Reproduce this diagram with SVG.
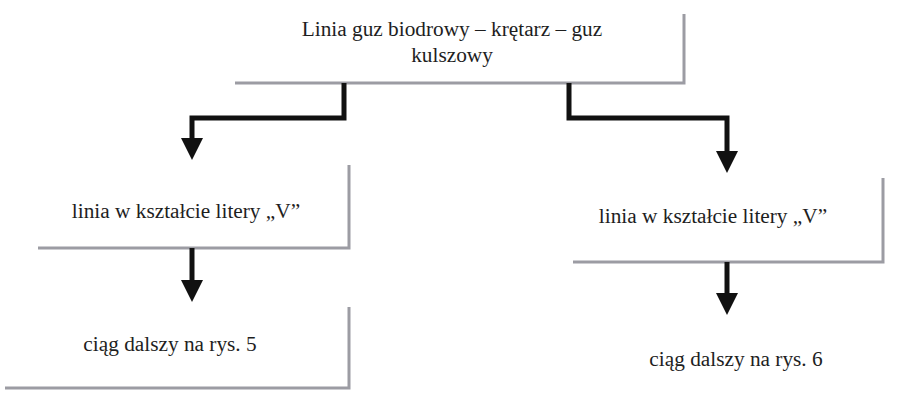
<svg xmlns="http://www.w3.org/2000/svg" width="906" height="404" viewBox="0 0 906 404">
  <style>
    .box { fill: #ffffff; }
    .edge { fill: none; stroke: #9c9ca3; stroke-width: 3; filter: url(#soft); }
    .label { font-family: 'Liberation Serif', 'Times New Roman', serif; font-size: 21.3px; fill: #1e1e1e; }
    .conn { fill: none; stroke: #111111; stroke-width: 5; stroke-linejoin: miter; }
  </style>
  <defs>
    <filter id="soft" x="-5%" y="-5%" width="110%" height="110%">
      <feGaussianBlur stdDeviation="0.7"/>
    </filter>
    <marker id="head" markerUnits="userSpaceOnUse" markerWidth="22" markerHeight="22" viewBox="0 -11 22 22" refX="0" refY="0" orient="auto">
      <path d="M0,-11 L22,0 L0,11 z" fill="#111111"/>
    </marker>
  </defs>
  <rect width="906" height="404" fill="#ffffff"/>

  <g id="node-top">
    <rect class="box" x="221" y="13" width="462" height="70"/>
    <path class="edge" d="M235,83 H684 V14"/>
    <text class="label" x="452" y="36" text-anchor="middle">Linia guz biodrowy – krętarz – guz</text>
    <text class="label" x="452" y="62" text-anchor="middle">kulszowy</text>
  </g>

  <g id="node-left-v">
    <rect class="box" x="38" y="165" width="311" height="83"/>
    <path class="edge" d="M38,248 H349 V165"/>
    <text class="label" x="186" y="218" text-anchor="middle">linia w kształcie litery „V”</text>
  </g>

  <g id="node-right-v">
    <rect class="box" x="573" y="178" width="310" height="84"/>
    <path class="edge" d="M573,262 H883 V178"/>
    <text class="label" x="713" y="223" text-anchor="middle">linia w kształcie litery „V”</text>
  </g>

  <g id="node-left-next">
    <rect class="box" x="5" y="307" width="344" height="81"/>
    <path class="edge" d="M5,388 H349 V307"/>
    <text class="label" x="170" y="351" text-anchor="middle">ciąg dalszy na rys. 5</text>
  </g>

  <g id="node-right-next">
    <rect class="box" x="573" y="322" width="340" height="80"/>
    <path class="edge" d="M573,402 H910"/>
    <text class="label" x="736" y="366" text-anchor="middle">ciąg dalszy na rys. 6</text>
  </g>

  <g id="connectors">
    <path class="conn" d="M344,83 V118 H192 V138" marker-end="url(#head)"/>
    <path class="conn" d="M569,83 V118 H727 V151" marker-end="url(#head)"/>
    <path class="conn" d="M192,248 V280" marker-end="url(#head)"/>
    <path class="conn" d="M727,262 V293" marker-end="url(#head)"/>
  </g>
</svg>
